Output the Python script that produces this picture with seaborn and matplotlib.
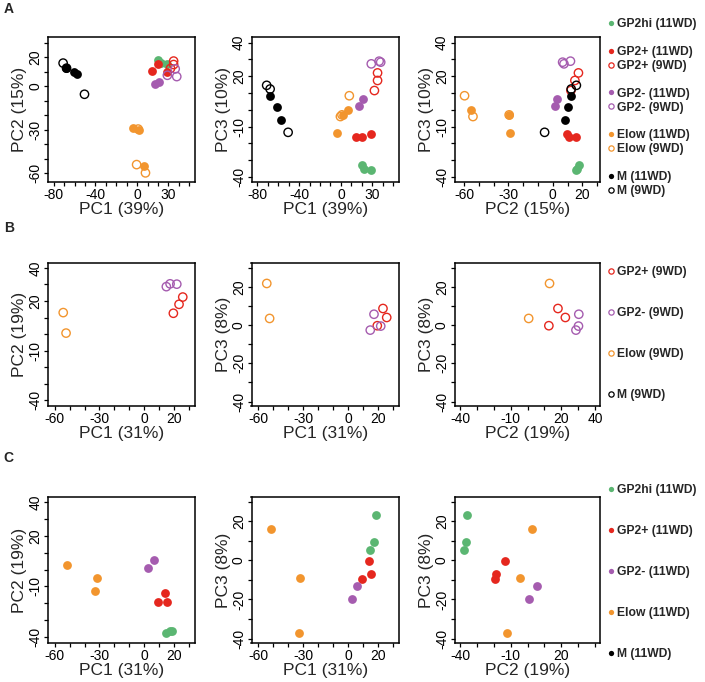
import numpy as np
import pandas as pd
import matplotlib
matplotlib.use("Agg")
import matplotlib.pyplot as plt
import seaborn as sns
from matplotlib.lines import Line2D

# --- Row A: PCA of all samples (11WD filled, 9WD open) ---
a_group = (['GP2hi (11WD)'] * 3 + ['GP2+ (11WD)'] * 3 + ['GP2+ (9WD)'] * 3 +
           ['GP2- (11WD)'] * 2 + ['GP2- (9WD)'] * 3 + ['Elow (11WD)'] * 3 +
           ['Elow (9WD)'] * 3 + ['M (11WD)'] * 3 + ['M (9WD)'] * 3)
a_pc1 = [20, 22.5, 28.5, 14.5, 20, 29, 35, 35, 32, 17.5, 21, 29, 36.5, 38,
         -3.7, 2, 6.5, -0.5, 1, 8, -68, -61, -57.5, -71, -67.7, -50.5]
a_pc2 = [18, 16.4, 15.5, 10.8, 15.5, 9.7, 17.4, 15, 12.3, 1.3, 3, 7.6, 12, 6.7,
         -28.8, -29.8, -55, -54, -29.5, -59.7, 12.4, 10.1, 8.6, 16, 12.5, -5.5]
a_pc3 = [-32.6, -35, -36, -16.4, -16, -14.4, 22, 17.5, 11.5, 2, 6.6, 27.4, 29, 28.4,
         -14, -3, 0, -4, -3, 8.4, 8.4, 1.4, -6, 14.6, 12.4, -13.4]

# --- Row B: PCA of 9WD samples ---
b_group = ['GP2+ (9WD)'] * 3 + ['GP2- (9WD)'] * 3 + ['Elow (9WD)'] * 2
b_pc1 = [19.5, 23.3, 25.8, 14.8, 17.3, 21.8, -54.3, -52.4]
b_pc2 = [12.6, 18, 22.4, 28.7, 30.4, 30.2, 13, 0.6]
b_pc3 = [-0.3, 8.7, 4, -2.6, 5.7, -0.5, 21.8, 3.5]

# --- Row C: PCA of 11WD samples ---
c_group = ['GP2hi (11WD)'] * 3 + ['GP2+ (11WD)'] * 3 + ['GP2- (11WD)'] * 2 + ['Elow (11WD)'] * 3
c_pc1 = [18.9, 17.3, 14.8, 14, 15.3, 9.2, 6.2, 2.6, -51.8, -31.8, -32.8]
c_pc2 = [-36.3, -36.5, -37.8, -13.7, -19, -19.3, 5.6, 1, 2.8, -4.7, -12.5]
c_pc3 = [23.2, 9.5, 5.2, -0.2, -6.9, -9.6, -13, -20, 15.9, -8.8, -37.1]

legend_a = ['GP2hi (11WD)', None, 'GP2+ (11WD)', 'GP2+ (9WD)', None, 'GP2- (11WD)', 'GP2- (9WD)',
            None, 'Elow (11WD)', 'Elow (9WD)', None, 'M (11WD)', 'M (9WD)']
legend_b = ['GP2+ (9WD)', 'GP2- (9WD)', 'Elow (9WD)', 'M (9WD)']
legend_c = ['GP2hi (11WD)', 'GP2+ (11WD)', 'GP2- (11WD)', 'Elow (11WD)', 'M (11WD)']

colours = {'GP2hi': '#5BB672', 'GP2+': '#E5271E', 'GP2-': '#A55CAF', 'Elow': '#F2952E', 'M': '#000000'}

df_a = pd.DataFrame({'group': a_group, 'PC1': a_pc1, 'PC2': a_pc2, 'PC3': a_pc3})
df_b = pd.DataFrame({'group': b_group, 'PC1': b_pc1, 'PC2': b_pc2, 'PC3': b_pc3})
df_c = pd.DataFrame({'group': c_group, 'PC1': c_pc1, 'PC2': c_pc2, 'PC3': c_pc3})

sns.set_style("ticks")
plt.rcParams['font.family'] = ['Liberation Sans', 'DejaVu Sans']

W, H = 705, 682
fig = plt.figure(figsize=(W / 100, H / 100), dpi=100)

cols_px = [(48, 195), (251.5, 399), (454.5, 600)]
rows_px = [(37, 182), (263, 406), (497, 643)]


def draw_points(ax, df, xcol, ycol):
    for grp, sub in df.groupby('group', sort=False):
        col = colours[grp.split(' ')[0]]
        if '11WD' in grp:
            sns.scatterplot(data=sub, x=xcol, y=ycol, ax=ax, color=col, s=40,
                            linewidth=0, legend=False, zorder=3)
        else:
            sns.scatterplot(data=sub, x=xcol, y=ycol, ax=ax, facecolor='none',
                            edgecolor=col, s=36, linewidth=1.0, legend=False, zorder=3)


def set_axis(ax, which, lim, ticks, shown, label):
    labels = [str(t) if t in shown else '' for t in ticks]
    if which == 'x':
        ax.set_xlim(lim)
        ax.set_xticks(ticks, labels)
        ax.set_xlabel(label, fontsize=12.5, labelpad=0)
    else:
        ax.set_ylim(lim)
        ax.set_yticks(ticks, labels, rotation=90, va='center')
        ax.set_ylabel(label, fontsize=12.5, labelpad=1)


# panel specs: (df, xcol, ycol, x-axis spec, y-axis spec)
pc1_a = ((-85.5, 55.5), range(-80, 51, 10), [-80, -40, 0, 30], 'PC1 (39%)')
pc2_a_y = ((-66, 34), range(-60, 31, 10), [20, 0, -30, -60], 'PC2 (15%)')
pc2_a_x = ((-66.5, 32), range(-60, 31, 10), [-60, -30, 0, 20], 'PC2 (15%)')
pc3_a = ((-43, 43.4), range(-40, 41, 10), [40, 20, -10, -40], 'PC3 (10%)')
pc1_b = ((-64.5, 34), range(-60, 31, 10), [-60, -30, 0, 20], 'PC1 (31%)')
pc2_b_y = ((-43.5, 43), range(-40, 41, 10), [40, 20, -10, -40], 'PC2 (19%)')
pc2_b_x = ((-43.5, 43), range(-40, 41, 10), [-40, -10, 20, 40], 'PC2 (19%)')
pc2_c_x = ((-43.5, 43), range(-40, 41, 10), [-40, -10, 20], 'PC2 (19%)')
pc3_b = ((-42.3, 32.5), range(-40, 31, 10), [20, 0, -20, -40], 'PC3 (8%)')

panels = [
    [(df_a, 'PC1', 'PC2', pc1_a, pc2_a_y), (df_a, 'PC1', 'PC3', pc1_a, pc3_a), (df_a, 'PC2', 'PC3', pc2_a_x, pc3_a)],
    [(df_b, 'PC1', 'PC2', pc1_b, pc2_b_y), (df_b, 'PC1', 'PC3', pc1_b, pc3_b), (df_b, 'PC2', 'PC3', pc2_b_x, pc3_b)],
    [(df_c, 'PC1', 'PC2', pc1_b, pc2_b_y), (df_c, 'PC1', 'PC3', pc1_b, pc3_b), (df_c, 'PC2', 'PC3', pc2_c_x, pc3_b)],
]

for r, row in enumerate(panels):
    y0, y1 = rows_px[r]
    for c, (df, xc, yc, xs, ys) in enumerate(row):
        x0, x1 = cols_px[c]
        ax = fig.add_axes([x0 / W, 1 - y1 / H, (x1 - x0) / W, (y1 - y0) / H])
        draw_points(ax, df, xc, yc)
        set_axis(ax, 'x', xs[0], list(xs[1]), xs[2], xs[3])
        set_axis(ax, 'y', ys[0], list(ys[1]), ys[2], ys[3])
        ax.tick_params(length=3.2, width=0.9, pad=0.8, labelsize=10, colors='black')
        for sp in ax.spines.values():
            sp.set_visible(True)
            sp.set_linewidth(1.1)
            sp.set_color('black')


def add_legend(entries, top_px, spacing):
    handles, labels = [], []
    for name in entries:
        if name is None:
            handles.append(Line2D([], [], linestyle='none'))
            labels.append(' ')
            continue
        col = colours[name.split(' ')[0]]
        filled = '11WD' in name
        handles.append(Line2D([], [], linestyle='none', marker='o', markersize=3.8,
                              markerfacecolor=col if filled else 'none',
                              markeredgecolor=col, markeredgewidth=0.9 if not filled else 0))
        labels.append(name)
    fig.legend(handles, labels, loc='upper left', bbox_to_anchor=(607.5 / W, 1 - top_px / H),
               frameon=False, borderpad=0, borderaxespad=0, handlelength=0.5,
               handletextpad=0.3, labelspacing=spacing,
               prop={'weight': 'bold', 'size': 8.7})


add_legend(legend_a, 18.3, 0.155)
add_legend(legend_b, 265.8, 2.4)
add_legend(legend_c, 484, 2.4)

for letter, ypx in [('A', 9), ('B', 228), ('C', 458.5)]:
    fig.text(8.7 / W, 1 - ypx / H, letter, fontsize=10, fontweight='bold', ha='center', va='center')

fig.savefig('out.png', dpi=100)
